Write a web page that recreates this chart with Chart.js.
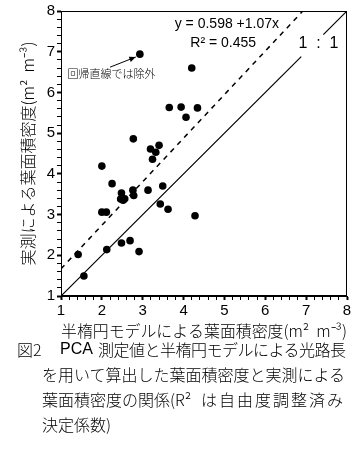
<!DOCTYPE html>
<html>
<head>
<meta charset="utf-8">
<script src="https://cdn.jsdelivr.net/npm/chart.js@4.4.1/dist/chart.umd.min.js"></script>
<style>
  body { margin: 0; background: #fff; width: 362px; height: 449px; overflow: hidden; position: relative;
         font-family: "Noto Sans CJK JP", sans-serif; font-weight: 300; color: #000; }
  #wrap { position: absolute; left: 0; top: 0; width: 362px; height: 345px; }
  .cap { position: absolute; font-size: 16px; line-height: 20px; white-space: nowrap; }
</style>
</head>
<body>
<div id="wrap"><canvas id="chart" width="362" height="345"></canvas></div>
<div class="cap" style="left:17px;top:339px">図2</div>
<div class="cap" style="left:60px;top:339px;font-family:'Liberation Sans',sans-serif">PCA</div>
<div class="cap" style="left:98px;top:339px;letter-spacing:-0.5px">測定値と半楕円モデルによる光路長</div>
<div class="cap" style="left:42px;top:364px">を用いて算出した葉面積密度と実測による</div>
<div class="cap" style="left:42px;top:389px">葉面積密度の関係(R²</div>
<div class="cap" style="left:201px;top:389px;letter-spacing:2px">は自由度調整済み</div>
<div class="cap" style="left:42px;top:414px">決定係数)</div>
<script>
// model-estimated vs measured leaf area density (m2 m-3)
const modelLAD = [4.20, 3.65, 3.94, 4.34, 4.06, 2.77, 3.19, 3.40, 3.32, 3.24,
                  2.00, 2.25, 2.48, 2.76, 2.78, 2.46, 2.52, 2.56, 3.13, 3.49,
                  3.43, 3.62, 4.28, 2.00, 2.11, 1.42, 1.56, 2.12, 2.48, 2.69, 2.91];
const measuredLAD = [6.60, 5.63, 5.64, 5.62, 5.39, 4.86, 4.61, 4.70, 4.53, 4.36,
                     4.19, 3.76, 3.53, 3.60, 3.47, 3.38, 3.35, 3.39, 3.60, 3.70,
                     3.26, 3.13, 2.97, 3.06, 3.06, 2.02, 1.49, 2.14, 2.30, 2.36, 2.09];
// point excluded from the regression
const outlierX = [2.93];
const outlierY = [6.94];
// regression y = 0.598 + 1.07x, drawn to the top of the frame
const regX = [1, 6.92];
const regY = [1.668, 8];
// 1:1 line, broken where its label sits
const oneX = [1, 6.88, 7.15, 7.42, 8];
const oneY = [1, 6.88, null, 7.42, 8];
const axisTicks = [1, 2, 3, 4, 5, 6, 7, 8];

const pts = (xs, ys) => xs.map((v, i) => ({ x: v, y: ys[i] }));
const isMajor = v => Math.abs(v - Math.round(v)) < 1e-6;
const tickFont = { family: "'Liberation Sans', sans-serif", size: 15 };
const titleFont = { family: "'Noto Sans CJK JP', sans-serif", size: 16, weight: "300" };

const decor = {
  id: "decor",
  afterDatasetsDraw(chart) {
    const { ctx, chartArea: a, scales: { x, y } } = chart;
    ctx.save();
    ctx.strokeStyle = "#000";
    ctx.lineWidth = 1;
    ctx.strokeRect(a.left + 0.5, a.top + 0.5, a.right - a.left - 1, a.bottom - a.top - 1);

    ctx.fillStyle = "#000";
    ctx.textBaseline = "middle";
    ctx.textAlign = "center";
    ctx.font = "14px 'Liberation Sans', sans-serif";
    ctx.fillText("y = 0.598 +1.07x", x.getPixelForValue(5.06), y.getPixelForValue(7.68));
    ctx.fillText("R² = 0.455", x.getPixelForValue(4.97), y.getPixelForValue(7.21));
    ctx.font = "16px 'Liberation Sans', sans-serif";
    ctx.fillText("1  :  1", x.getPixelForValue(7.30), y.getPixelForValue(7.21));

    ctx.textAlign = "left";
    ctx.font = "300 11px 'Noto Sans CJK JP', sans-serif";
    ctx.fillText("回帰直線では除外", x.getPixelForValue(1.16), y.getPixelForValue(6.45));

    // arrow to the excluded point
    const x0 = x.getPixelForValue(2.20), y0 = y.getPixelForValue(6.62);
    const x1 = x.getPixelForValue(2.83), y1 = y.getPixelForValue(6.87);
    ctx.beginPath();
    ctx.moveTo(x0, y0);
    ctx.lineTo(x1, y1);
    ctx.stroke();
    const ang = Math.atan2(y1 - y0, x1 - x0);
    ctx.beginPath();
    ctx.moveTo(x1, y1);
    ctx.lineTo(x1 - 7 * Math.cos(ang - 0.4), y1 - 7 * Math.sin(ang - 0.4));
    ctx.lineTo(x1 - 7 * Math.cos(ang + 0.4), y1 - 7 * Math.sin(ang + 0.4));
    ctx.closePath();
    ctx.fill();
    ctx.restore();
  }
};

const axis = (title, titlePad, fit) => ({
  type: "linear",
  min: 1,
  max: 8,
  afterFit: fit,
  ticks: {
    stepSize: 0.2,
    maxTicksLimit: 100,
    autoSkip: false,
    maxRotation: 0,
    padding: 2,
    color: "#000",
    font: tickFont,
    callback: v => isMajor(v) && axisTicks.includes(Math.round(v)) ? String(Math.round(v)) : ""
  },
  grid: {
    drawOnChartArea: false,
    drawTicks: true,
    tickLength: 4,
    tickColor: "#000",
    tickWidth: c => isMajor(c.tick.value) ? 2 : 1
  },
  border: { color: "#000", width: 1 },
  title: { display: true, text: title, color: "#000", font: titleFont, padding: titlePad }
});

new Chart(document.getElementById("chart"), {
  type: "scatter",
  data: {
    datasets: [
      {
        data: pts(modelLAD, measuredLAD),
        backgroundColor: "#000",
        borderWidth: 0,
        pointRadius: 3.8
      },
      {
        data: pts(outlierX, outlierY),
        backgroundColor: "#000",
        borderWidth: 0,
        pointRadius: 3.8
      },
      {
        type: "line",
        data: pts(regX, regY),
        borderColor: "#000",
        borderWidth: 1.5,
        borderDash: [5, 5],
        pointRadius: 0,
        fill: false
      },
      {
        type: "line",
        data: pts(oneX, oneY),
        borderColor: "#000",
        borderWidth: 1.2,
        pointRadius: 0,
        spanGaps: false,
        fill: false
      }
    ]
  },
  options: {
    responsive: false,
    animation: false,
    devicePixelRatio: 1,
    layout: { padding: { top: 11, right: 15, left: 0, bottom: 0 } },
    plugins: { legend: { display: false }, tooltip: { enabled: false } },
    scales: {
      x: axis("半楕円モデルによる葉面積密度(m²  m⁻³)", { top: 0, bottom: 4 }, s => { s.height = 49; }),
      y: axis("実測による葉面積密度(m²  m⁻³)", { top: 18, bottom: 0 }, s => { s.width = 61; })
    }
  },
  plugins: [decor]
});
</script>
</body>
</html>
